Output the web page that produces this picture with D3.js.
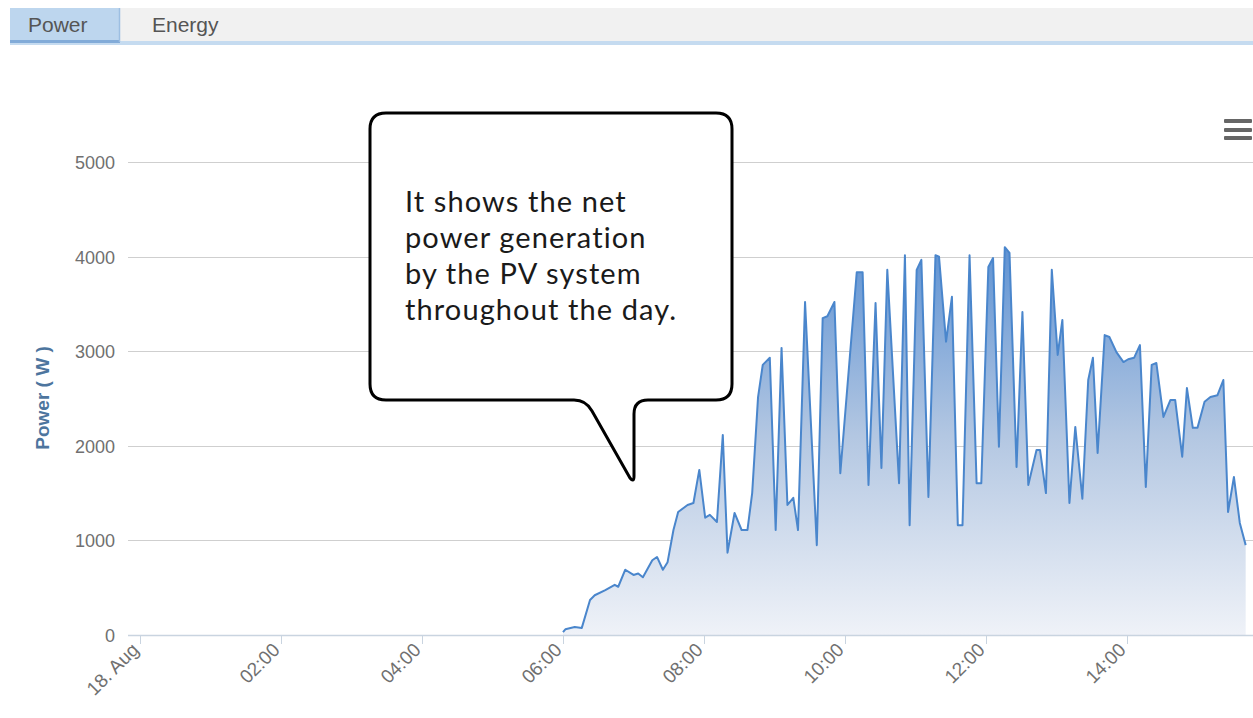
<!DOCTYPE html>
<html><head><meta charset="utf-8">
<script src="https://cdn.jsdelivr.net/npm/d3@7"></script>
<style>
html,body{margin:0;padding:0;background:#fff;overflow:hidden}
svg{display:block}
</style></head><body>
<svg id="chart" width="1253" height="718"></svg>
<script>
// ---- data ----
const times = [
  "06:00","06:02","06:10","06:16","06:23","06:27","06:36","06:44","06:47","06:53",
  "07:00","07:04","07:08","07:16","07:20","07:25","07:29","07:34","07:38","07:46",
  "07:51","07:56","08:01","08:05","08:11","08:16","08:20","08:26",
  "08:32","08:37","08:41","08:46","08:50","08:56","09:01","09:06","09:11","09:16",
  "09:20","09:26","09:36","09:41","09:45","09:51","09:56","10:10","10:15","10:20",
  "10:26","10:31","10:36","10:46","10:51","10:55",
  "11:01","11:05","11:11","11:17","11:20","11:26","11:31","11:36","11:40","11:46",
  "11:52","11:56","12:02","12:06","12:11","12:16","12:20","12:26","12:31","12:36",
  "12:43","12:46","12:51","12:56","13:01","13:05","13:11","13:16","13:22",
  "13:27","13:31","13:35","13:41","13:45","13:51","13:57","14:01","14:06","14:11",
  "14:16","14:21","14:25","14:31","14:37","14:41","14:47","14:51","14:56","15:00",
  "15:06","15:11","15:17","15:22","15:26","15:31","15:36","15:41"
];
const values = [
  30,60,85,75,370,420,475,530,510,690,
  635,650,610,790,825,690,770,1110,1300,1375,
  1395,1745,1240,1270,1195,2115,870,1290,
  1110,1110,1500,2515,2855,2930,1110,3035,1375,1450,
  1110,3520,950,3350,3370,3520,1710,3835,3835,1585,
  3510,1765,3860,1605,4015,1160,
  3860,3965,1460,4015,4000,3100,3575,1160,1160,4015,
  1605,1605,3890,3985,1990,4100,4040,1775,3415,1585,
  1955,1955,1500,3860,2960,3330,1395,2200,1440,
  2695,2930,1925,3170,3150,2990,2885,2915,2930,3065,
  1565,2855,2875,2305,2485,2485,1885,2610,2190,2190,
  2465,2515,2535,2695,1300,1670,1185,950
];
const yTicks = [0, 1000, 2000, 3000, 4000, 5000];
const tabLabels = ["Power", "Energy"];
const yTitle = "Power ( W )";
const dayLabel = "18. Aug";
const calloutLines = ["It shows the net", "power generation", "by the PV system", "throughout the day."];

// ---- setup ----
const svg = d3.select("#chart");
const day = "2014-08-18";
const parse = d3.timeParse("%Y-%m-%d %H:%M");
const data = times.map((t, i) => ({ t: parse(day + " " + t), v: values[i] }));

const x = d3.scaleTime()
  .domain([parse(day + " 00:00"), parse(day + " 15:50")])
  .range([140, 140 + 70.5 * (15 + 50 / 60)]);
const y = d3.scaleLinear().domain([0, 5000]).range([635, 162]);

const defs = svg.append("defs");
const grad = defs.append("linearGradient").attr("id", "areaGrad")
  .attr("gradientUnits", "userSpaceOnUse")
  .attr("x1", 0).attr("x2", 0).attr("y1", y(4200)).attr("y2", y(0));
grad.append("stop").attr("offset", 0).attr("stop-color", "#5b90d2");
grad.append("stop").attr("offset", 0.5).attr("stop-color", "#b3c7e2");
grad.append("stop").attr("offset", 1).attr("stop-color", "#eff2f8");
defs.append("clipPath").attr("id", "plotClip").append("rect")
  .attr("x", 128).attr("y", 100).attr("width", 1200).attr("height", 540);

// ---- tabs ----
svg.append("rect").attr("x", 120).attr("y", 8).attr("width", 1133).attr("height", 33).attr("fill", "#f1f1f1");
svg.append("rect").attr("x", 10).attr("y", 8).attr("width", 110).attr("height", 33).attr("fill", "#bdd6ee");
svg.append("rect").attr("x", 10).attr("y", 41).attr("width", 1243).attr("height", 4).attr("fill", "#c5dbf0");
svg.append("rect").attr("x", 10).attr("y", 40).attr("width", 110).attr("height", 3).attr("fill", "#82abd8");
svg.append("line").attr("x1", 119.5).attr("x2", 119.5).attr("y1", 8).attr("y2", 42)
  .attr("stroke", "#9dbfe2").attr("stroke-width", 1.5);
svg.selectAll("text.tab").data(tabLabels).enter().append("text").attr("class", "tab")
  .attr("x", (d, i) => i === 0 ? 28 : 152).attr("y", 32)
  .attr("font-family", "'Liberation Sans', Arial, sans-serif").attr("font-size", 21)
  .attr("fill", "#555").text(d => d);

// ---- grid ----
const grid = svg.append("g");
grid.selectAll("line").data(yTicks.filter(d => d > 0)).enter().append("line")
  .attr("x1", 128).attr("x2", 1253)
  .attr("y1", d => Math.round(y(d)) + 0.5).attr("y2", d => Math.round(y(d)) + 0.5)
  .attr("stroke", "#cfcfcf").attr("stroke-width", 1);

// ---- area + line ----
const plot = svg.append("g").attr("clip-path", "url(#plotClip)");
plot.append("path").datum(data)
  .attr("d", d3.area().x(d => x(d.t)).y0(y(0)).y1(d => y(d.v)))
  .attr("fill", "url(#areaGrad)");
plot.append("path").datum(data)
  .attr("d", d3.line().x(d => x(d.t)).y(d => y(d.v)))
  .attr("fill", "none").attr("stroke", "#4a86cc").attr("stroke-width", 2)
  .attr("stroke-linejoin", "round");

// ---- x axis ----
svg.append("line").attr("x1", 128).attr("x2", 1253).attr("y1", 635.5).attr("y2", 635.5)
  .attr("stroke", "#c9d4e0").attr("stroke-width", 1.5);
const xTicks = x.ticks(d3.timeHour.every(2));
const fmt = d3.timeFormat("%H:%M");
const xg = svg.append("g");
xg.selectAll("line").data(xTicks).enter().append("line")
  .attr("x1", d => Math.round(x(d)) + 0.5).attr("x2", d => Math.round(x(d)) + 0.5)
  .attr("y1", 636).attr("y2", 644).attr("stroke", "#c9d4e0").attr("stroke-width", 1);
xg.selectAll("text").data(xTicks).enter().append("text")
  .attr("transform", d => `translate(${x(d)},${651}) rotate(-45)`)
  .attr("text-anchor", "end")
  .attr("font-family", "'Liberation Sans', Arial, sans-serif").attr("font-size", 19)
  .attr("fill", "#707070")
  .text(d => d.getHours() === 0 ? dayLabel : fmt(d));

// ---- y axis labels ----
svg.append("g").selectAll("text").data(yTicks).enter().append("text")
  .attr("x", 115).attr("y", d => y(d) + 7)
  .attr("text-anchor", "end")
  .attr("font-family", "'Liberation Sans', Arial, sans-serif").attr("font-size", 18)
  .attr("fill", "#707070").text(d => d);
svg.append("text").attr("transform", "translate(49,398) rotate(-90)")
  .attr("text-anchor", "middle")
  .attr("font-family", "'Liberation Sans', Arial, sans-serif").attr("font-size", 19)
  .attr("font-weight", "bold").attr("fill", "#4d759e").text(yTitle);

// ---- menu icon ----
svg.append("g").selectAll("rect").data([119, 128, 136]).enter().append("rect")
  .attr("x", 1224).attr("y", d => d).attr("width", 28).attr("height", 4).attr("rx", 1)
  .attr("fill", "#666");

// ---- callout ----
const L = 370, T = 113, R = 732, B = 400, r = 16;
const p = d3.path();
p.moveTo(L + r, T);
p.lineTo(R - r, T);
p.quadraticCurveTo(R, T, R, T + r);
p.lineTo(R, B - r);
p.quadraticCurveTo(R, B, R - r, B);
p.lineTo(648, B);
p.quadraticCurveTo(634, B, 634, B + 14);
p.lineTo(634, 476);
p.quadraticCurveTo(634, 483, 630, 478);
p.lineTo(592, 411);
p.quadraticCurveTo(586, B, 574, B);
p.lineTo(L + r, B);
p.quadraticCurveTo(L, B, L, B - r);
p.lineTo(L, T + r);
p.quadraticCurveTo(L, T, L + r, T);
p.closePath();
svg.append("path").attr("d", p.toString()).attr("fill", "#fff")
  .attr("stroke", "#000").attr("stroke-width", 3).attr("stroke-linejoin", "round");
svg.append("g").selectAll("text").data(calloutLines).enter().append("text")
  .attr("x", 405).attr("y", (d, i) => 212 + i * 36)
  .attr("font-family", "Lato, 'Open Sans', sans-serif").attr("font-size", 29)
  .attr("letter-spacing", "1.1px")
  .attr("fill", "#1a1a1a").text(d => d);
</script>
</body></html>
